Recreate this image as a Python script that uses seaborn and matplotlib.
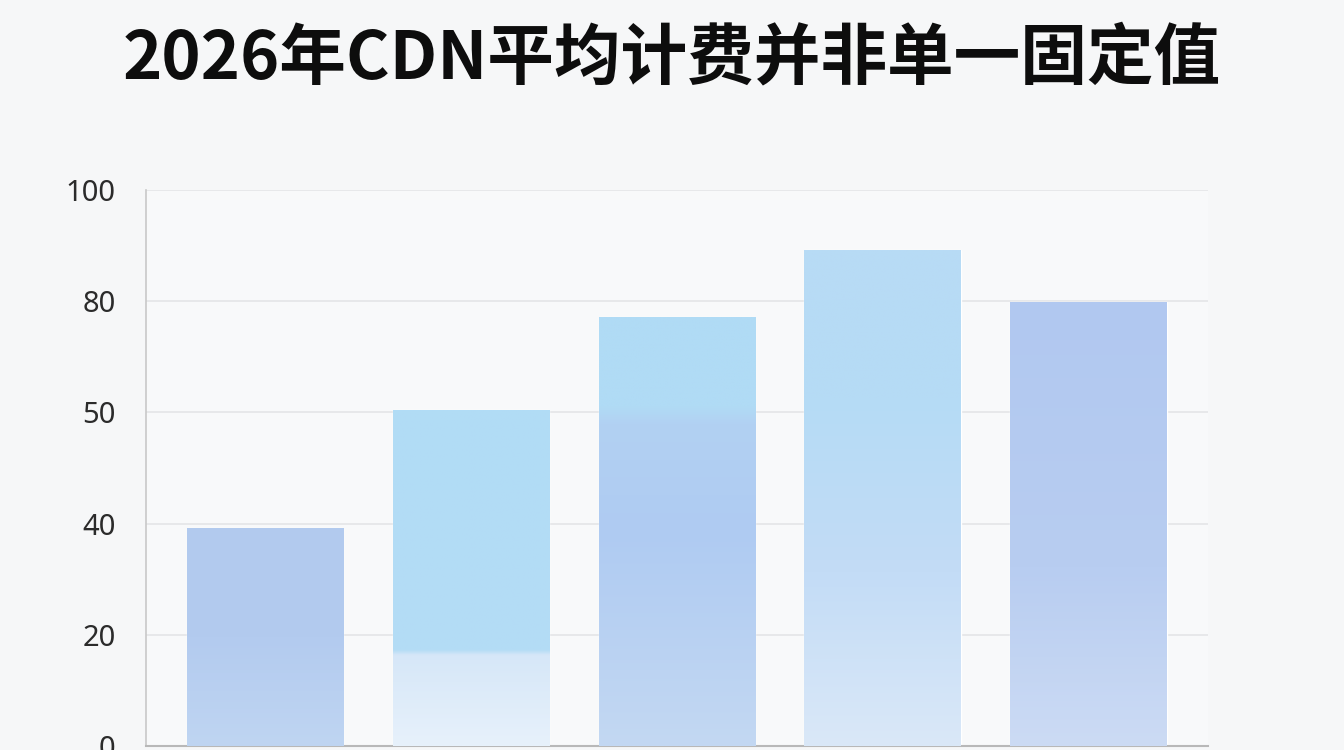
import numpy as np
import pandas as pd
import seaborn as sns
import matplotlib.pyplot as plt
from matplotlib.colors import to_rgb

# data
categories = ["A", "B", "C", "D", "E"]
values = [39.2, 60.4, 77.2, 89.2, 79.9]
tick_pos = [0, 20, 40, 60, 80, 100]
tick_labels = ["0", "20", "40", "50", "80", "100"]  # labels as printed in the reference
title = "2026年CDN平均计费并非单一固定值"

# gradient stops per bar, as (fraction of height from bottom, colour)
bar_stops = [
    [(0.0, "#bfd5f2"), (0.5, "#b3cbef"), (1.0, "#b2caee")],
    [(0.0, "#e7f1fb"), (0.27, "#d6e7f8"), (0.285, "#b4dcf5"), (1.0, "#b1dcf6")],
    [(0.0, "#c3d8f3"), (0.5, "#afcbf2"), (0.75, "#b2d1f3"), (0.79, "#b0dbf5"), (1.0, "#b0dbf5")],
    [(0.0, "#dae8f8"), (0.35, "#c3dcf6"), (0.7, "#b5dbf5"), (1.0, "#b8dbf5")],
    [(0.0, "#ccdbf4"), (0.4, "#b8cdf1"), (1.0, "#b1c8f0")],
]

sns.set_theme(style="white")
plt.rcParams["font.family"] = ["Noto Sans", "Noto Sans CJK SC", "DejaVu Sans"]

df = pd.DataFrame({"cat": categories, "val": values})

fig = plt.figure(figsize=(13.44, 7.5), dpi=100, facecolor="#f6f7f8")
ax = fig.add_axes([0.1086, 0.0053, 0.790, 0.7413])
ax.set_facecolor("#f8f9fa")

sns.barplot(data=df, x="cat", y="val", color="#b3cbef", width=0.76, ax=ax, zorder=2)

# paint a vertical gradient into each bar
for patch, stops in zip(ax.patches, bar_stops):
    x0 = patch.get_x()
    w = patch.get_width()
    h = patch.get_height()
    fr = np.linspace(0, 1, 300)
    pos = [s[0] for s in stops]
    cols = np.array([to_rgb(s[1]) for s in stops])
    img = np.stack([np.interp(fr, pos, cols[:, k]) for k in range(3)], axis=-1)
    img = img[::-1][:, None, :]
    im = ax.imshow(img, extent=(x0, x0 + w, 0, h), aspect="auto", zorder=3,
                   interpolation="bilinear")
    im.set_clip_path(patch)

ax.set_xlim(-0.58, 4.58)
ax.set_ylim(0, 100)
ax.set_yticks(tick_pos)
ax.set_yticklabels(tick_labels)
ax.tick_params(axis="y", labelsize=21, labelcolor="#2b2b2b", length=0, pad=22)
ax.set_xticks([])
ax.set_xlabel("")
ax.set_ylabel("")
ax.grid(axis="y", color="#e4e5e7", linewidth=1.2, zorder=0)
ax.set_axisbelow(True)

for side in ["top", "right"]:
    ax.spines[side].set_visible(False)
ax.spines["left"].set_color("#c8c8c8")
ax.spines["left"].set_linewidth(1.2)
ax.spines["bottom"].set_color("#b8b8b8")
ax.spines["bottom"].set_linewidth(1.5)

fig.text(0.5, 0.922, title, ha="center", va="center", fontsize=48,
         fontweight="bold", color="#0d0d0d",
         family=["Noto Sans CJK SC", "DejaVu Sans"])

fig.savefig("out.png", dpi=100, facecolor=fig.get_facecolor())
